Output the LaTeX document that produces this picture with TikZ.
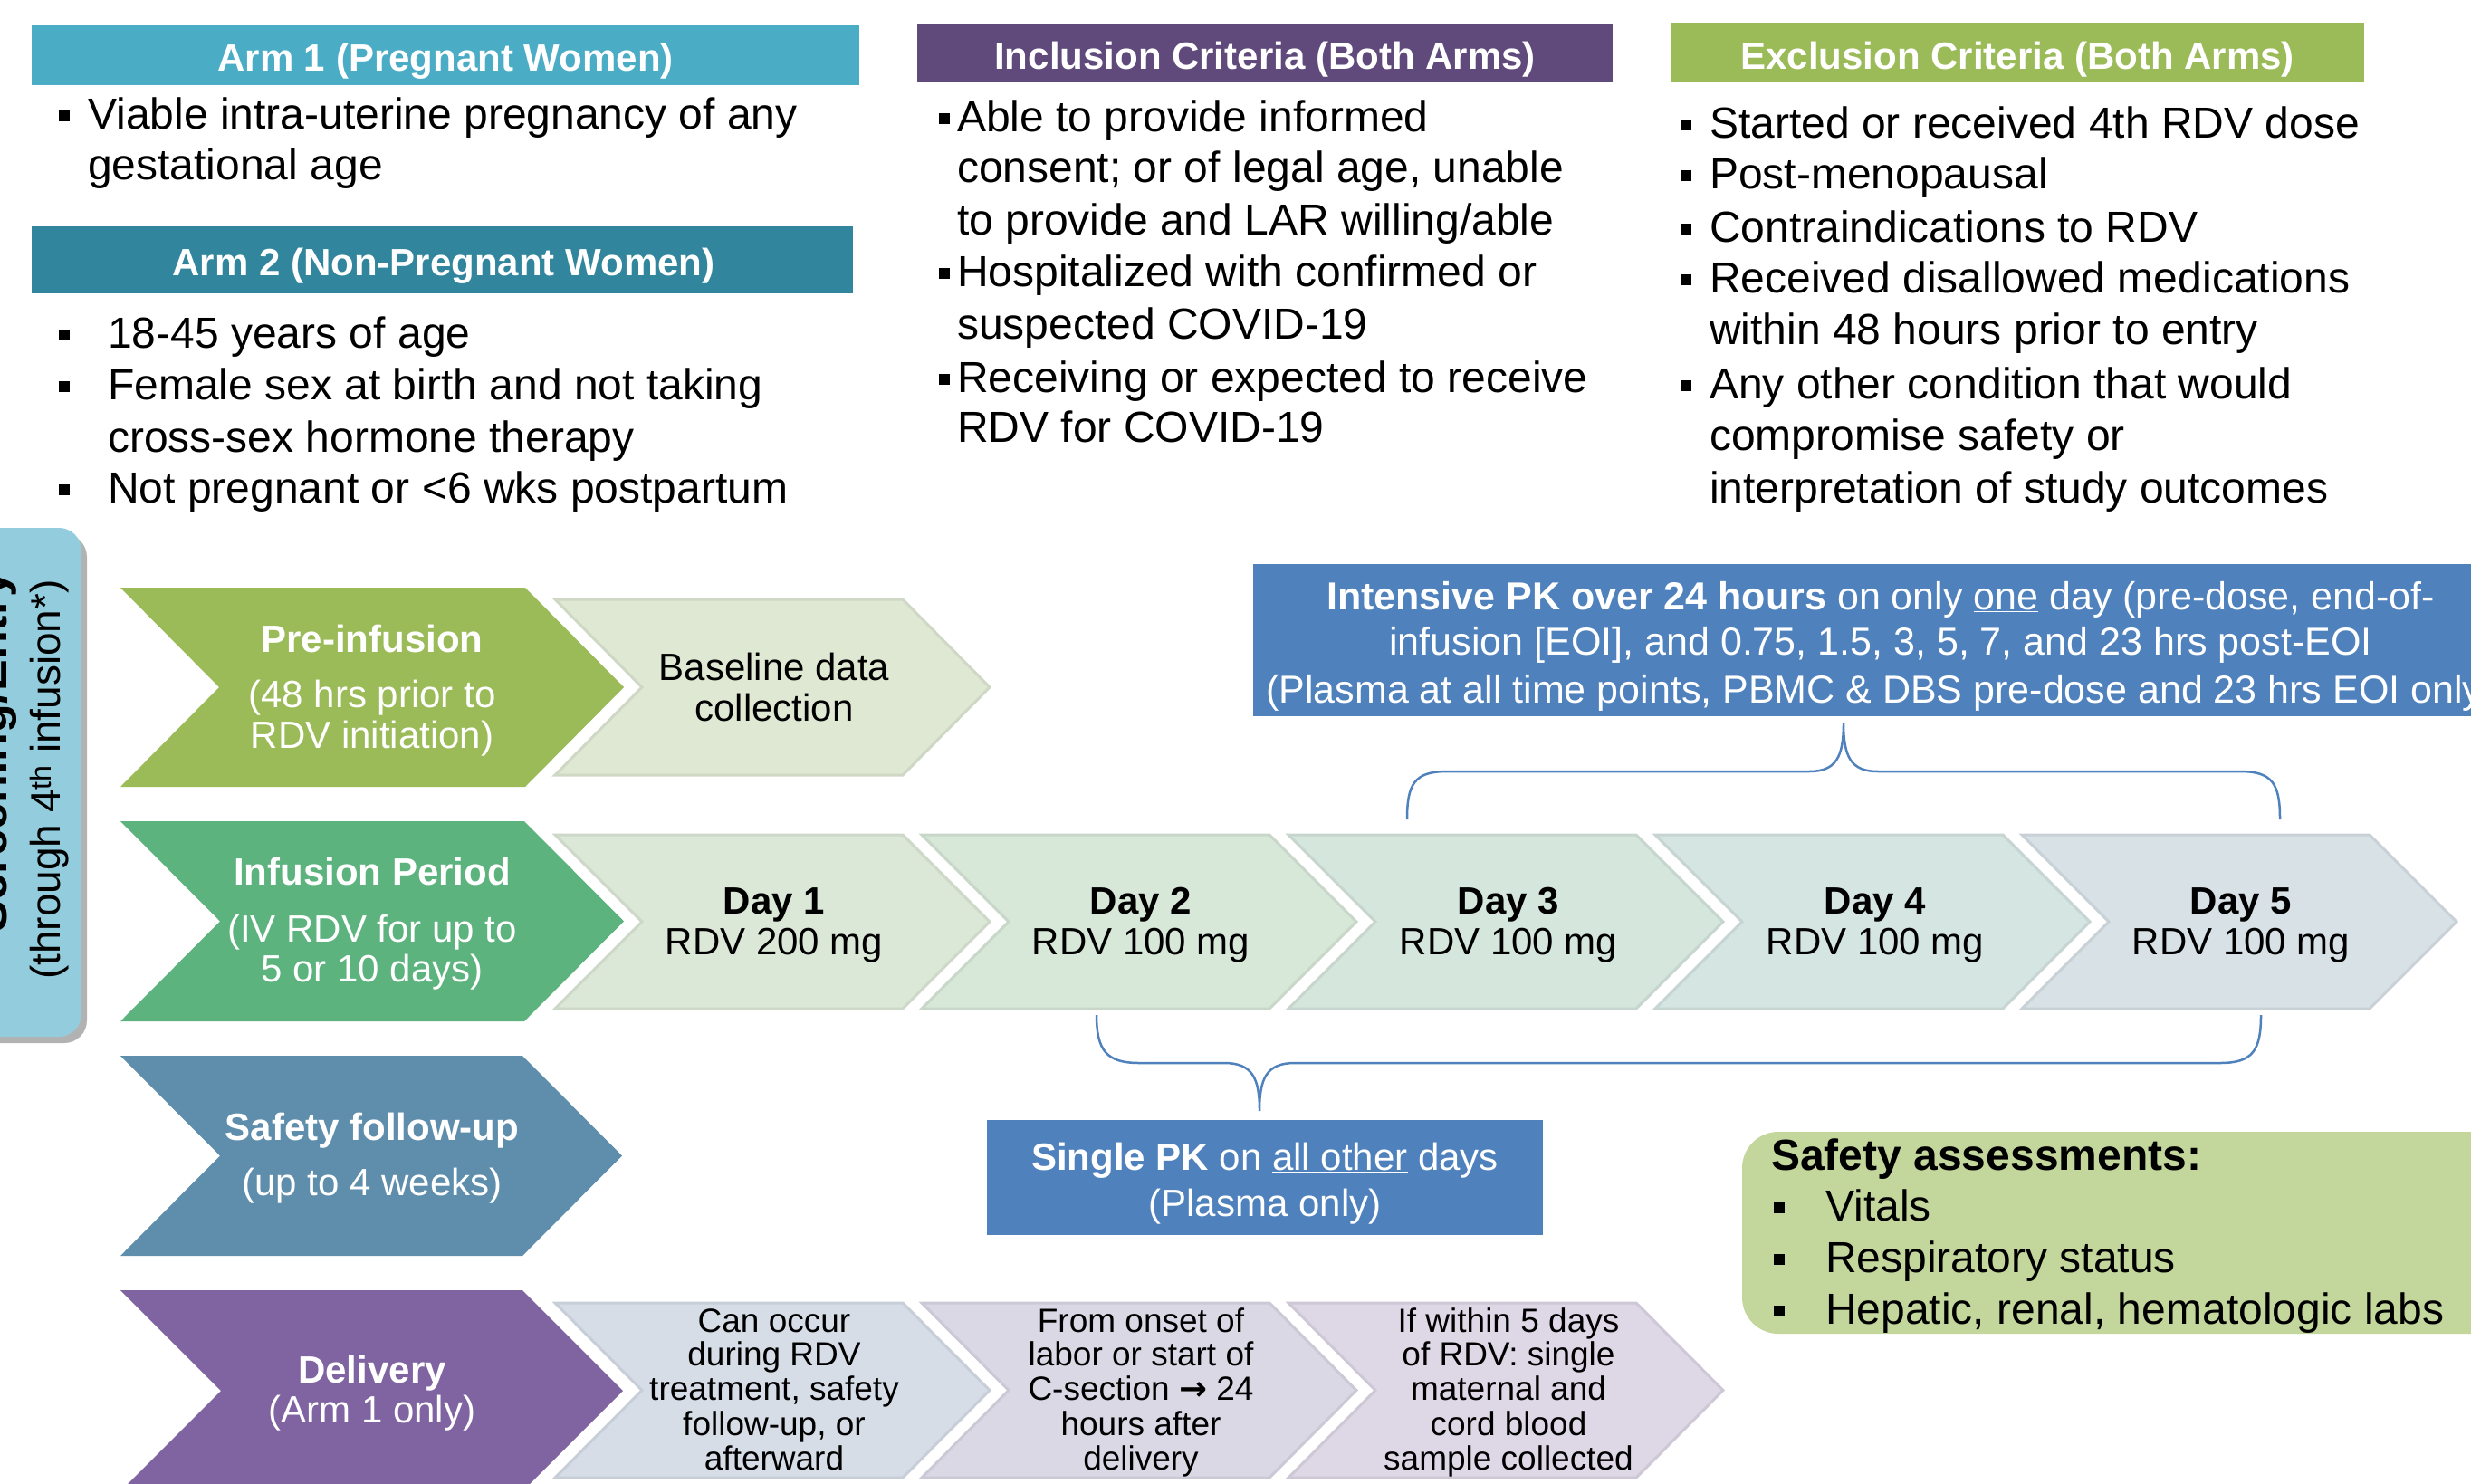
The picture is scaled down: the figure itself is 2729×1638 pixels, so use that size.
\documentclass[tikz,border=0pt]{standalone}
\usepackage{fontspec}
\setmainfont{Liberation Sans}
\newfontfamily\dvfont{DejaVu Sans}
\newcommand{\fs}[2]{\fontsize{#1}{#2}\selectfont}
\definecolor{armone}{HTML}{4BACC6}
\definecolor{armtwo}{HTML}{31859C}
\definecolor{incl}{HTML}{604A7B}
\definecolor{excl}{HTML}{9BBB59}
\definecolor{scr}{HTML}{93CDDD}
\definecolor{pre}{HTML}{9BBB59}
\definecolor{inf}{HTML}{5DB37E}
\definecolor{saf}{HTML}{5F8EAD}
\definecolor{del}{HTML}{8064A2}
\definecolor{pk}{HTML}{4F81BD}
\definecolor{sa}{HTML}{C3D69B}
\definecolor{bsl}{HTML}{DFE8D3}
\definecolor{dA}{HTML}{DCE8D7}
\definecolor{dB}{HTML}{D7E7D8}
\definecolor{dC}{HTML}{D5E6DD}
\definecolor{dD}{HTML}{D5E5E2}
\definecolor{dE}{HTML}{D7E1E6}
\definecolor{lA}{HTML}{D7DDE7}
\definecolor{lB}{HTML}{DAD8E5}
\definecolor{lC}{HTML}{DDD7E6}
% #1 colour, #2 left x, #3 top y, #4 tip x, #5 bottom y, #6 depth
\newcommand{\chevron}[6]{\fill[#1] (#2,#3) -- ({#4-#6},#3) -- (#4,{(#3+#5)/2}) -- ({#4-#6},#5) -- (#2,#5) -- ({#2+#6},{(#3+#5)/2}) -- cycle;}
\newcommand{\lchevron}[6]{\filldraw[fill=#1, draw=#1!93!black, line width=3pt, line join=miter] (#2,#3) -- ({#4-#6},#3) -- (#4,{(#3+#5)/2}) -- ({#4-#6},#5) -- (#2,#5) -- ({#2+#6},{(#3+#5)/2}) -- cycle;}
\newcommand{\sqb}[2]{\fill[black] ({#1-6},{#2-20}) rectangle ({#1+6},{#2-8});}
\begin{document}
\begin{tikzpicture}[x=1pt,y=-1pt,
  hdr/.style={anchor=base, inner sep=0pt, text=white, font=\bfseries\fs{42}{50}},
  bl/.style={anchor=base west, inner sep=0pt, font=\fs{48}{57}},
  blb/.style={bl, font=\bfseries\fs{48}{57}},
  ct/.style={anchor=base, inner sep=0pt, font=\fs{42}{46}},
  ctb/.style={ct, font=\bfseries\fs{42}{46}},
  wt/.style={ct, text=white},
  wtb/.style={ctb, text=white},
  pkt/.style={anchor=base, inner sep=0pt, text=white, font=\fs{43}{50}},
  sm/.style={anchor=base, inner sep=0pt, font=\fs{37}{38}},
  brace/.style={draw=pk, line width=2.5pt}]
\useasboundingbox (0,0) rectangle (2729,1638);
\clip (0,0) rectangle (2729,1638);

% ---------- headers ----------
\fill[armone] (35,28) rectangle (949,94);
\node[hdr] (h1) at (492,78) {Arm 1 (Pregnant Women)};
\fill[incl] (1013,26) rectangle (1781,91);
\node[hdr] (h2) at (1397,76) {Inclusion Criteria (Both Arms)};
\fill[excl] (1845,25) rectangle (2611,91);
\node[hdr] (h3) at (2228,76) {Exclusion Criteria (Both Arms)};
\fill[armtwo] (35,250) rectangle (942,324);
\node[hdr] (h4) at (490,304) {Arm 2 (Non-Pregnant Women)};

% ---------- Arm 1 ----------
\sqb{71}{142}
\node[bl] (a11) at (97,142) {Viable intra-uterine pregnancy of any};
\node[bl] (a12) at (97,198) {gestational age};

% ---------- Arm 2 ----------
\sqb{71}{384}\sqb{71}{441}\sqb{71}{555}
\node[bl] (a21) at (119,384) {18-45 years of age};
\node[bl] (a22) at (119,441) {Female sex at birth and not taking};
\node[bl] (a23) at (119,499) {cross-sex hormone therapy};
\node[bl] (a24) at (119,555) {Not pregnant or <6 wks postpartum};

% ---------- Inclusion ----------
\sqb{1043}{145}\sqb{1043}{316}\sqb{1043}{433}
\node[bl] (i1) at (1057,145) {Able to provide informed};
\node[bl] (i2) at (1057,201) {consent; or of legal age, unable};
\node[bl] (i3) at (1057,259) {to provide and LAR willing/able};
\node[bl] (i4) at (1057,316) {Hospitalized with confirmed or};
\node[bl] (i5) at (1057,374) {suspected COVID-19};
\node[bl] (i6) at (1057,433) {Receiving or expected to receive};
\node[bl] (i7) at (1057,488) {RDV for COVID-19};

% ---------- Exclusion ----------
\sqb{1862}{152}\sqb{1862}{208}\sqb{1862}{267}\sqb{1862}{323}\sqb{1862}{440}
\node[bl] (e1) at (1888,152) {Started or received 4th RDV dose};
\node[bl] (e2) at (1888,208) {Post-menopausal};
\node[bl] (e3) at (1888,267) {Contraindications to RDV};
\node[bl] (e4) at (1888,323) {Received disallowed medications};
\node[bl] (e5) at (1888,380) {within 48 hours prior to entry};
\node[bl] (e6) at (1888,440) {Any other condition that would};
\node[bl] (e7) at (1888,497) {compromise safety or};
\node[bl] (e8) at (1888,555) {interpretation of study outcomes};

% ---------- Screening box ----------
\fill[black!30] (-40,590) [rounded corners=25] rectangle (96,1152);
\fill[scr, rounded corners=25] (-40,583) rectangle (90,1145);
\node[anchor=base, inner sep=0pt, rotate=90, font=\bfseries\fs{52}{58}] (scrA) at (8,830) {Screening/Entry};
\node[anchor=base, inner sep=0pt, rotate=90, font=\fs{46}{52}] (scrB) at (66,861) {(through 4\textsuperscript{th} infusion*)};

% ---------- Row 1 ----------
\chevron{pre}{133}{649}{689}{869}{109}
\node[wtb] (pre1) at (411,720) {Pre-infusion};
\node[wt] (pre2) at (411,781) {(48 hrs prior to};
\node[wt] (pre3) at (411,826) {RDV initiation)};
\lchevron{bsl}{613}{662}{1093}{856}{96}
\node[ct] (bs1) at (855,751) {Baseline data};
\node[ct] (bs2) at (855,796) {collection};

% ---------- Row 2 ----------
\chevron{inf}{133}{907}{689}{1128}{110}
\node[wtb] (inf1) at (411,977) {Infusion Period};
\node[wt] (inf2) at (411,1040) {(IV RDV for up to};
\node[wt] (inf3) at (411,1084) {5 or 10 days)};
\lchevron{dA}{613}{922}{1093}{1114}{96}
\lchevron{dB}{1018}{922}{1498}{1114}{96}
\lchevron{dC}{1423}{922}{1903}{1114}{96}
\lchevron{dD}{1828}{922}{2308}{1114}{96}
\lchevron{dE}{2233}{922}{2713}{1114}{96}
\node[ctb] (d1a) at (855,1009) {Day 1};
\node[ct] (d1b) at (855,1054) {RDV 200 mg};
\node[ctb] (d2a) at (1260,1009) {Day 2};
\node[ct] (d2b) at (1260,1054) {RDV 100 mg};
\node[ctb] (d3a) at (1666,1009) {Day 3};
\node[ct] (d3b) at (1666,1054) {RDV 100 mg};
\node[ctb] (d4a) at (2071,1009) {Day 4};
\node[ct] (d4b) at (2071,1054) {RDV 100 mg};
\node[ctb] (d5a) at (2475,1009) {Day 5};
\node[ct] (d5b) at (2475,1054) {RDV 100 mg};

% ---------- Intensive PK ----------
\fill[pk] (1384,623) rectangle (2775,791);
\node[pkt] (pk1) at (2077,673) {\textbf{Intensive PK over 24 hours} on only \underline{one} day (pre-dose, end-of-};
\node[pkt] (pk2) at (2077,723) {infusion [EOI], and 0.75, 1.5, 3, 5, 7, and 23 hrs post-EOI};
\node[pkt] (pk3) at (2077,776) {(Plasma at all time points, PBMC \& DBS pre-dose and 23 hrs EOI only)};

% ---------- braces ----------
\coordinate (ub1) at (1554,905);
\coordinate (ub2) at (2518,905);
\coordinate (ubt) at (2036,798);
\draw[brace] (ub1) .. controls (1554,866) and (1562,852) .. (1598,852) -- (1998,852)
  .. controls (2028,852) and (2036,836) .. (ubt)
  .. controls (2036,836) and (2044,852) .. (2074,852) -- (2474,852)
  .. controls (2510,852) and (2518,866) .. (ub2);
\coordinate (lb1) at (1211,1121);
\coordinate (lb2) at (2497,1121);
\coordinate (lbt) at (1391,1227);
\draw[brace] (lb1) .. controls (1211,1160) and (1222,1174) .. (1258,1174) -- (1352,1174)
  .. controls (1384,1174) and (1391,1192) .. (lbt)
  .. controls (1391,1192) and (1398,1174) .. (1430,1174) -- (2452,1174)
  .. controls (2488,1174) and (2497,1160) .. (lb2);

% ---------- Row 3 ----------
\chevron{saf}{133}{1166}{687}{1387}{110}
\node[wtb] (sf1) at (411,1259) {Safety follow-up};
\node[wt] (sf2) at (411,1320) {(up to 4 weeks)};

% ---------- Single PK ----------
\fill[pk] (1090,1237) rectangle (1704,1364);
\node[wt] (sp1) at (1397,1292) {\textbf{Single PK} on \underline{all other} days};
\node[wt] (sp2) at (1397,1343) {(Plasma only)};

% ---------- Safety assessments ----------
\fill[sa, rounded corners=40] (1924,1250) rectangle (2800,1473);
\node[blb] (sa0) at (1956,1292) {Safety assessments:};
\sqb{1965}{1348}\sqb{1965}{1405}\sqb{1965}{1462}
\node[bl] (sa1) at (2016,1348) {Vitals};
\node[bl] (sa2) at (2016,1405) {Respiratory status};
\node[bl] (sa3) at (2016,1462) {Hepatic, renal, hematologic labs};

% ---------- Row 4 ----------
\chevron{del}{133}{1425}{688}{1647}{111}
\node[wtb] (dl1) at (411,1527) {Delivery};
\node[wt] (dl2) at (411,1571) {(Arm 1 only)};
\lchevron{lA}{613}{1439}{1093}{1632}{96}
\lchevron{lB}{1018}{1439}{1498}{1632}{96}
\lchevron{lC}{1423}{1439}{1903}{1632}{96}
\node[sm] (x1) at (855,1471) {Can occur};
\node[sm] (x2) at (855,1508) {during RDV};
\node[sm] (x3) at (855,1546) {treatment, safety};
\node[sm] (x4) at (855,1585) {follow-up, or};
\node[sm] (x5) at (855,1623) {afterward};
\node[sm] (y1) at (1260,1471) {From onset of};
\node[sm] (y2) at (1260,1508) {labor or start of};
\node[sm] (y3) at (1260,1546) {C-section {\dvfont\bfseries →} 24};
\node[sm] (y4) at (1260,1585) {hours after};
\node[sm] (y5) at (1260,1623) {delivery};
\node[sm] (z1) at (1666,1471) {If within 5 days};
\node[sm] (z2) at (1666,1508) {of RDV: single};
\node[sm] (z3) at (1666,1546) {maternal and};
\node[sm] (z4) at (1666,1585) {cord blood};
\node[sm] (z5) at (1666,1623) {sample collected};
\end{tikzpicture}
\end{document}
